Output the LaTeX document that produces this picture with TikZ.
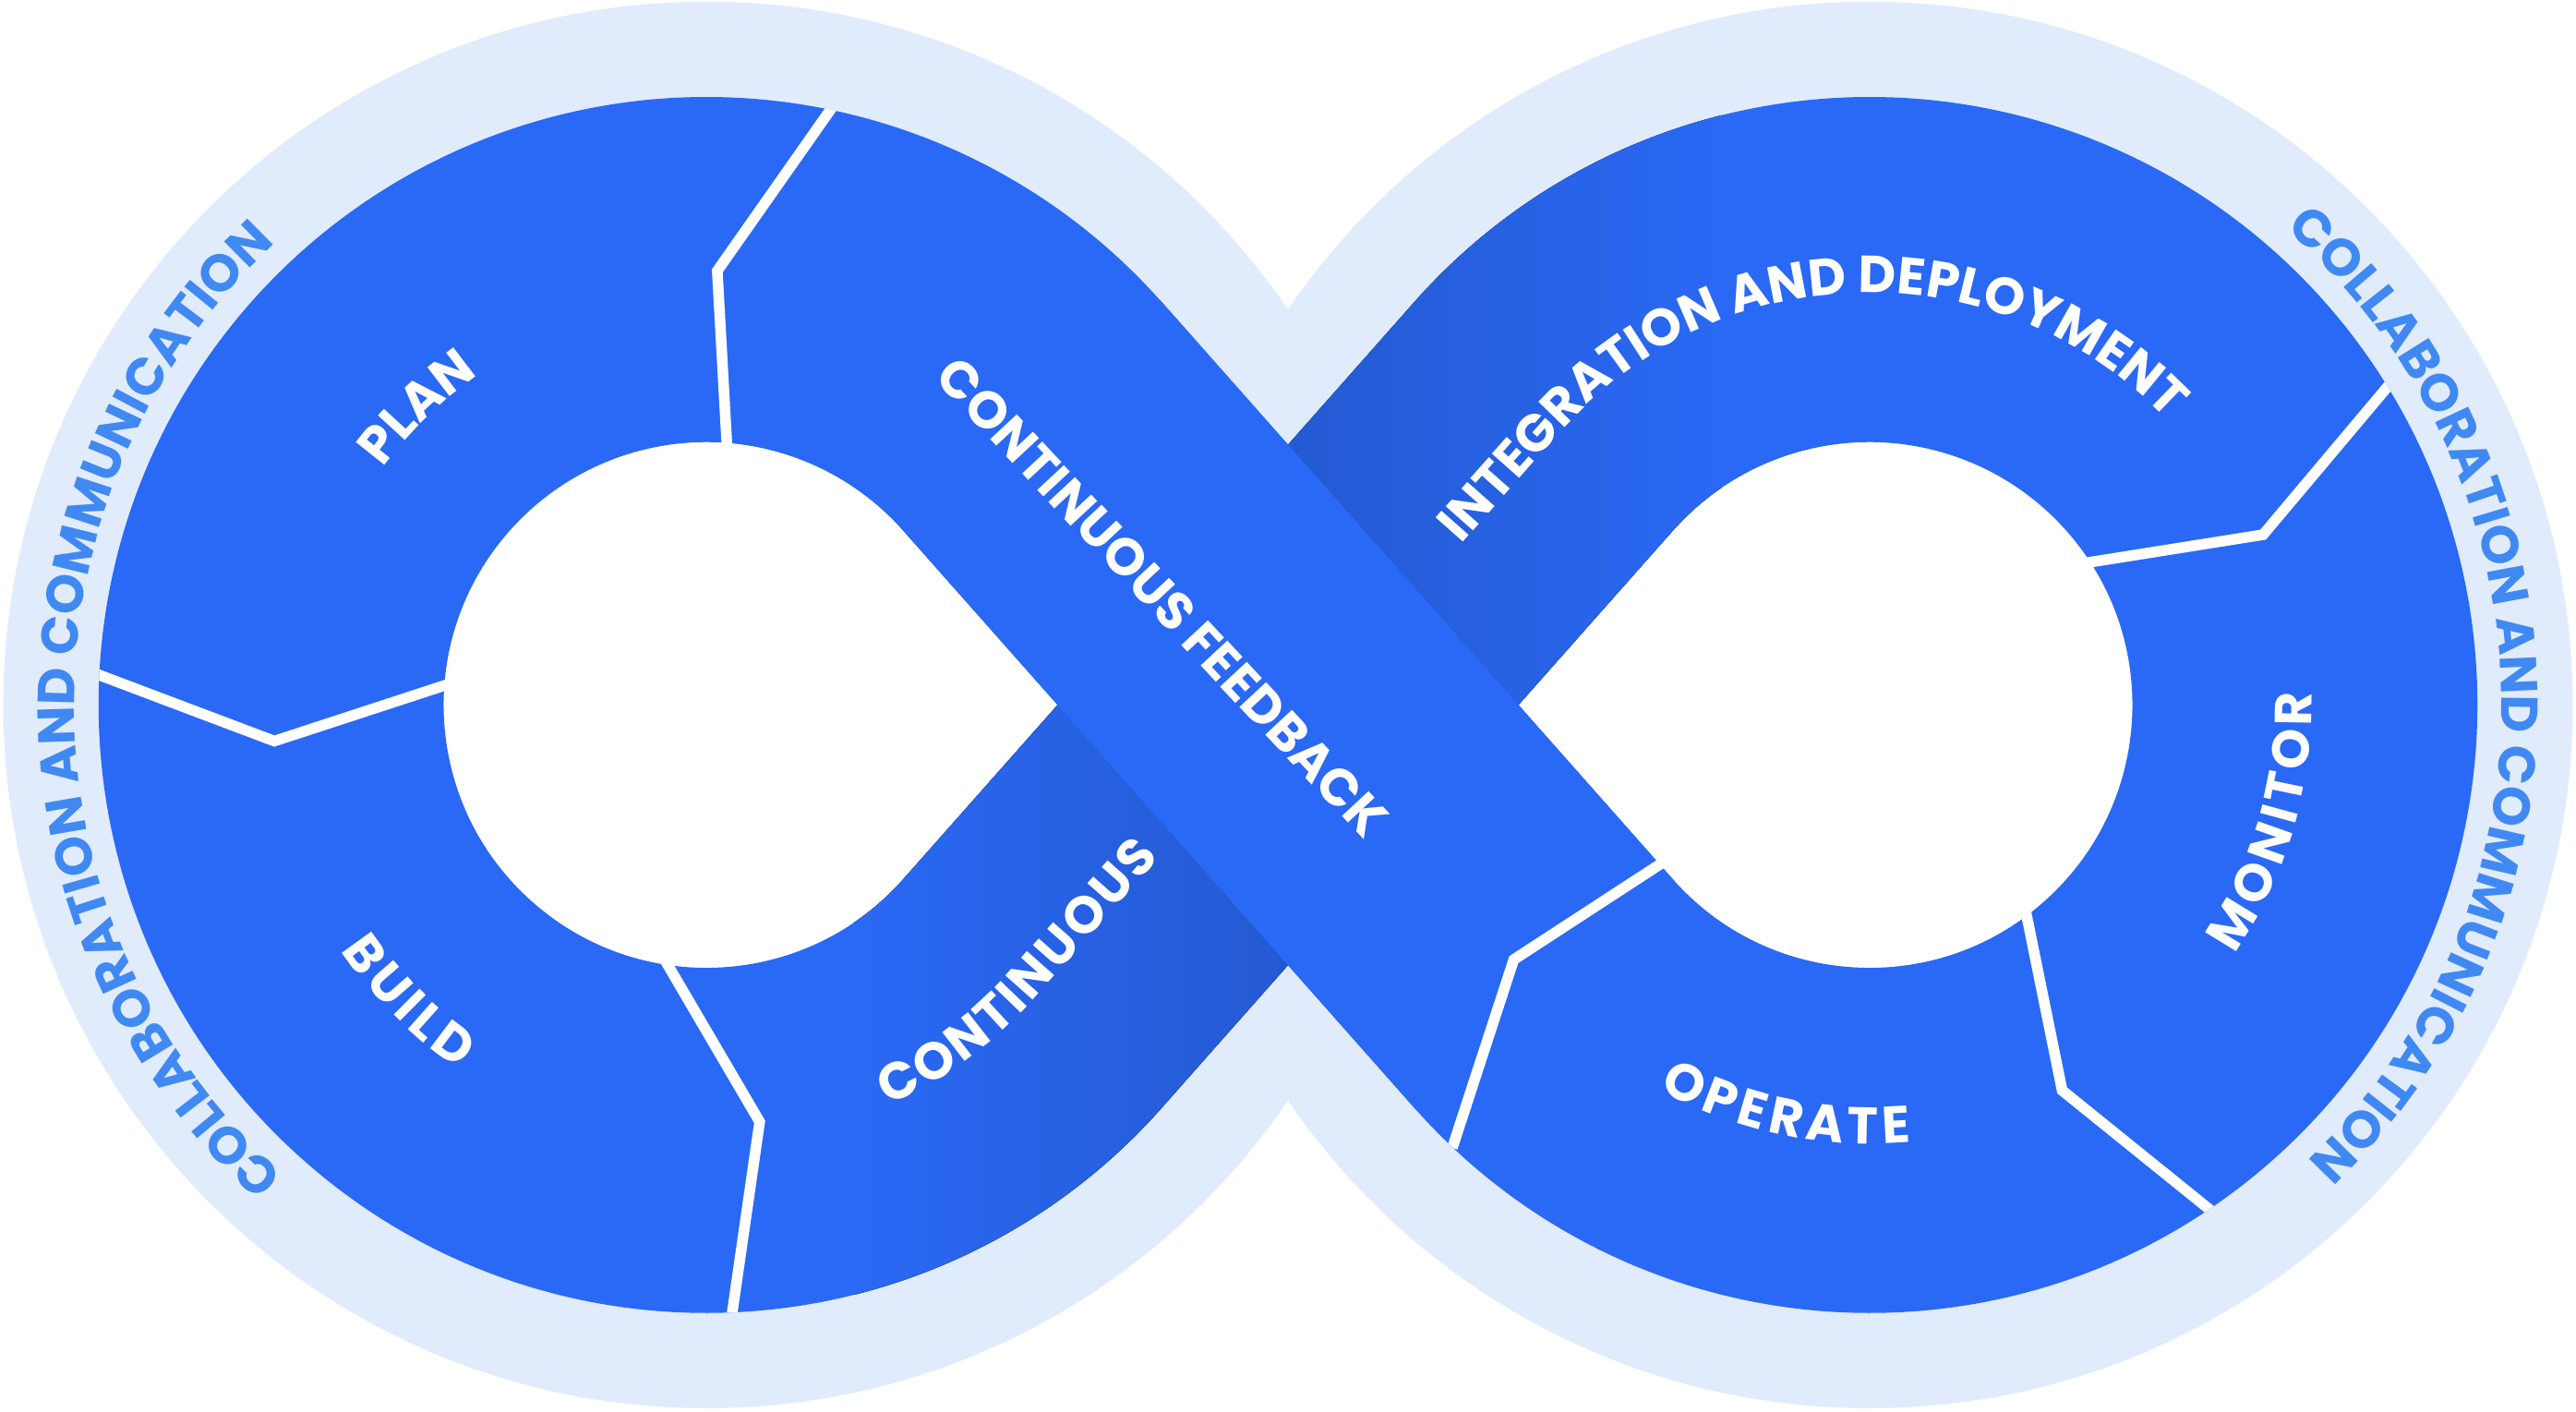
\documentclass[tikz,border=0pt]{standalone}
\usepackage{fontspec}
\setmainfont{Poppins}
\usepackage{tikz}
\usetikzlibrary{calc,decorations.text}
\definecolor{bandBlue}{HTML}{2A69F5}
\definecolor{shadeBlue}{HTML}{2459D1}
\definecolor{haloBlue}{HTML}{E0EBFC}
\definecolor{haloText}{HTML}{4189F2}
\newcommand{\lblfont}{\fontsize{16}{19}\selectfont\bfseries}
\newcommand{\widefont}{\fontsize{16}{19}\selectfont\bfseries\kern1.5pt}
\tikzset{
    halo/.style={fill=haloBlue},
    hole/.style={fill=white},
    bandStroke/.style={draw=bandBlue, line width=3.7366cm},
    divider/.style={draw=white, line width=0.1157cm},
    bandLabel/.style={decorate, decoration={text along path, text color=white, text align=center}},
    haloLabel/.style={decorate, decoration={text along path, text color=haloText, text align=center}},
}

\begin{document}
\begin{tikzpicture}[x=0.0177934cm, y=-0.0177934cm,
    shadeLeft/.style={left color=bandBlue, right color=shadeBlue},
    shadeRight/.style={left color=shadeBlue, right color=bandBlue}
]
    \useasboundingbox (0,0) rectangle (1568,859);
    \coordinate (lobeL) at (430,429);
    \coordinate (lobeR) at (1138,429);

    % Outer halo and the two holes
    \fill[halo] (lobeL) circle[radius=428] (lobeR) circle[radius=428];
    \fill[hole] (643.73,429) -- (549.77,535.09) arc[start angle=41.53, end angle=318.47, radius=160] -- cycle;
    \fill[hole] (924.27,429) -- (1018.23,535.09) arc[start angle=138.47, end angle=-138.47, radius=160] -- cycle;

    % Infinity band
    \draw[bandStroke] (628.37,253.29) -- (939.63,604.71) arc[start angle=138.47, end angle=-138.47, radius=265]
        -- (628.37,604.71) arc[start angle=41.53, end angle=318.47, radius=265];

    % Shadow where the lower strand runs under the crossing
    \begin{scope}
        \clip (706.98,674.32) -- (905.9,449.7) -- (784,270.64) -- (643.73,429) -- (549.77,535.09)
            arc[start angle=41.53, end angle=150, radius=160] -- (109.6,614)
            arc[start angle=150, end angle=41.53, radius=370] -- cycle;
        \fill[shadeLeft] (520,420) rectangle (786,860);
    \end{scope}
    \begin{scope}
        \clip (861.02,183.68) -- (662.1,408.3) -- (784,587.36) -- (924.27,429) -- (1018.23,322.91)
            arc[start angle=221.53, end angle=330, radius=160] -- (1458.4,244)
            arc[start angle=330, end angle=221.53, radius=370] -- cycle;
        \fill[shadeRight] (782,-1) rectangle (1048,438);
    \end{scope}

    % Upper strand on top
    \draw[bandStroke] (627.04,251.79) -- (940.96,606.21);

    % Stage dividers
    \begin{scope}
        \clip (lobeL) circle[radius=370] (lobeR) circle[radius=370];
        \draw[divider] (506.6,65.2) -- (436.6,164.8) -- (443.1,282.4);
        \draw[divider] (53.5,408.2) -- (167,451) -- (280.5,413.9);
        \draw[divider] (400,576.2) -- (462.4,682.7) -- (444.9,804.3);
        \draw[divider] (1021.9,518.5) -- (921.4,584) -- (884,698.6);
        \draw[divider] (1231.1,544.9) -- (1255.2,663.6) -- (1348.6,739);
        \draw[divider] (1258.6,344.3) -- (1377.5,325.4) -- (1456.2,231.9);
    \end{scope}

    % Stage labels
    \path[bandLabel, decoration={text={|\lblfont|PLAN}}]
        ($(lobeL)+(185.8:244)$) arc[start angle=185.8, end angle=265.8, radius=244];
    \path[bandLabel, decoration={text={|\widefont|BUILD}}]
        ($(lobeL)+(175.5:268)$) arc[start angle=175.5, end angle=95.5, radius=268];
    \path[bandLabel, decoration={text={|\lblfont\kern0.7pt|CONTINUOUS}}]
        ($(lobeL)+(81.53:268)$) arc[start angle=81.53, end angle=41.53, radius=268] -- (754.6,466.7);
    \node[font=\lblfont, text=white, rotate=-47, inner sep=0pt] (feedback) at (707.5,363.5) {CONTINUOUS FEEDBACK};
    \path[bandLabel, decoration={text={|\lblfont|INTEGRATION AND DEPLOYMENT}}]
        (820.2,409.3) -- (950.0,262.7) arc[start angle=221.53, end angle=340, radius=251];
    \path[bandLabel, decoration={text={|\widefont|MONITOR}}]
        ($(lobeR)+(56.7:269)$) arc[start angle=56.7, end angle=-23.3, radius=269];
    \path[bandLabel, decoration={text={|\widefont|OPERATE}}]
        ($(lobeR)+(142:267)$) arc[start angle=142, end angle=62, radius=267];

    % Halo labels
    \path[haloLabel, decoration={text={|\lblfont|COLLABORATION AND COMMUNICATION}}]
        ($(lobeL)+(89.45:384.7)$) arc[start angle=89.45, end angle=269.45, radius=384.7];
    \path[haloLabel, decoration={text={|\lblfont|COLLABORATION AND COMMUNICATION}}]
        ($(lobeR)+(-91.35:384.7)$) arc[start angle=-91.35, end angle=88.65, radius=384.7];
\end{tikzpicture}
\end{document}
